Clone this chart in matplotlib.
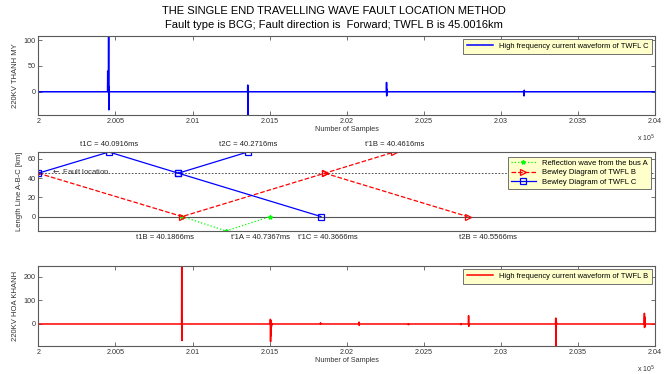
import numpy as np
import matplotlib
matplotlib.use("Agg")
import matplotlib.pyplot as plt
from matplotlib.ticker import FormatStrFormatter

plt.rcParams['font.family'] = ['Liberation Sans', 'DejaVu Sans']

# sample axis of both recordings
samples = np.arange(200000, 204001)

# TWFL C (220kV Thanh My): arrival sample and the values of each wave front
c_index = [200450, 200456, 201358, 202258, 203150]
c_values = [[40, 25], [108, -35, 10], [13, -45, 8, -5], [18, -8, 5], [-8, 3]]

# TWFL B (220kV Hoa Khanh)
b_index = [200930, 201505, 201830, 202080, 202400, 202740, 202790, 203355, 203930]
b_values = [[245, -70, 30], [20, -75, 15, -50, 10, -30, 5, -10], [5], [8, -6],
            [-3], [-3], [35, -10], [25, -93, 20, -40, 10], [45, -15, 30, -10, 20, -8]]

# Bewley diagram, time in ms, distance in km
line_len = 67
fault_km = 45
t0 = 40.0
t1C, t2C, t1C_r = 40.0916, 40.2716, 40.3666
t1B, t1B_r, t2B = 40.1866, 40.4616, 40.5566
t1A_label = 40.7367
a_time = [40.1866, 40.2436, 40.3006]
a_km = [0, -15, 0]


def waveform(index, values):
    w = np.zeros(len(samples))
    for i, vals in zip(index, values):
        for k, v in enumerate(vals):
            w[i - samples[0] + k] = v
    return w


wave_c = waveform(c_index, c_values)
wave_b = waveform(b_index, b_values)

frame = '#5a5a5a'
leg_bg = '#ffffcc'


def style(ax):
    for s in ax.spines.values():
        s.set_color(frame)
        s.set_linewidth(0.8)
    ax.tick_params(direction='in', top=True, right=True, length=3, width=0.6,
                   labelsize=5.2, colors=frame, labelcolor='#333333', pad=2)


def yellow_legend(ax, **kw):
    leg = ax.legend(loc='upper right', fancybox=False, framealpha=1, **kw)
    leg.get_frame().set_facecolor(leg_bg)
    leg.get_frame().set_edgecolor(frame)
    leg.get_frame().set_linewidth(0.6)
    return leg


fig = plt.figure(figsize=(6.72, 3.74), dpi=100)
fig.text(0.497, 0.970, 'THE SINGLE END TRAVELLING WAVE FAULT LOCATION METHOD',
         ha='center', va='center', fontsize=8)
fig.text(0.497, 0.933, 'Fault type is BCG; Fault direction is  Forward; TWFL B is 45.0016km',
         ha='center', va='center', fontsize=8)

L, W = 0.057, 0.918
xt = np.arange(2.0, 2.0401, 0.005)

# ---- TWFL C waveform
ax1 = fig.add_axes([L, 1 - 115 / 374, W, 79 / 374])
ax1.plot(samples / 1e5, wave_c, color='blue', lw=1.1,
         label='High frequency current waveform of TWFL C')
ax1.set_xlim(2.0, 2.04)
ax1.set_ylim(wave_c.min(), wave_c.max())
ax1.set_xticks(xt)
ax1.xaxis.set_major_formatter(FormatStrFormatter('%g'))
ax1.set_yticks([0, 50, 100])
ax1.set_xlabel('Number of Samples', fontsize=5.2, labelpad=1, color='#333333')
ax1.set_ylabel('220KV THANH MY', fontsize=5.5, labelpad=3, color='#333333')
style(ax1)
yellow_legend(ax1, fontsize=5.4, borderpad=0.5, handlelength=3.5, borderaxespad=0.4)
ax1.text(1.0, -0.22, r'x 10$^5$', transform=ax1.transAxes, ha='right', va='top',
         fontsize=5, color='#333333')

# ---- Bewley diagram
ax2 = fig.add_axes([L, 1 - 231 / 374, W, 79 / 374])
ax2.axhline(fault_km, color='#333333', ls=(0, (2, 2)), lw=0.6)
ax2.axhline(0, color='#555555', lw=0.8)
ax2.plot(a_time, a_km, color='#00ff00', ls=':', lw=0.9, marker='*', ms=3,
         label='Reflection wave from the bus A')
t2B_mid = t2B - (t2B - t1B) / 2
ax2.plot([t0, t1B, t2B_mid, t1B_r, np.nan, t2B_mid, t2B],
         [fault_km, 0, fault_km, line_len, np.nan, fault_km, 0],
         color='red', ls='--', lw=0.9, marker='>', ms=5, mfc='none', mew=0.9,
         label='Bewley Diagram of TWFL B')
t2C_mid = (t1C + t2C) / 2
ax2.plot([t0, t1C, t2C_mid, t2C, np.nan, t2C_mid, t1C_r],
         [fault_km, line_len, fault_km, line_len, np.nan, fault_km, 0],
         color='blue', ls='-', lw=0.9, marker='s', ms=4.5, mfc='none', mew=0.9,
         label='Bewley Diagram of TWFL C')
ax2.set_xlim(40.0, 40.8)
ax2.set_ylim(-15, line_len)
ax2.set_xticks([])
ax2.set_yticks([0, 20, 40, 60])
ax2.set_ylabel('Length Line A-B-C [km]', fontsize=5.5, labelpad=3, color='#333333')
style(ax2)
lab = dict(fontsize=5.5, ha='center', va='center', color='#222222', clip_on=False)
ax2.text(t1C, 75, 't1C = %.4fms' % t1C, **lab)
ax2.text(t2C, 75, 't2C = %.4fms' % t2C, **lab)
ax2.text(t1B_r, 75, "t'1B = %.4fms" % t1B_r, **lab)
ax2.text(t1B - 0.022, -22, 't1B = %.4fms' % t1B, **lab)
ax2.text(a_time[2] - 0.012, -22, "t'1A = %.4fms" % t1A_label, **lab)
ax2.text(t1C_r + 0.009, -22, "t'1C = %.4fms" % t1C_r, **lab)
ax2.text(t2B + 0.027, -22, 't2B = %.4fms' % t2B, **lab)
ax2.text(40.016, fault_km + 1.5, r'$\leftarrow$ Fault location', fontsize=5.5,
         ha='left', va='center', color='#333333')
yellow_legend(ax2, fontsize=5.5, borderpad=0.4, handlelength=3.2, labelspacing=0.25,
              borderaxespad=0.6)

# ---- TWFL B waveform
ax3 = fig.add_axes([L, 1 - 346 / 374, W, 80 / 374])
ax3.plot(samples / 1e5, wave_b, color='red', lw=1.1,
         label='High frequency current waveform of TWFL B')
ax3.set_xlim(2.0, 2.04)
ax3.set_ylim(wave_b.min(), wave_b.max())
ax3.set_xticks(xt)
ax3.xaxis.set_major_formatter(FormatStrFormatter('%g'))
ax3.set_yticks([0, 100, 200])
ax3.set_xlabel('Number of Samples', fontsize=5.2, labelpad=1, color='#333333')
ax3.set_ylabel('220KV HOA KHANH', fontsize=5.5, labelpad=3, color='#333333')
style(ax3)
yellow_legend(ax3, fontsize=5.4, borderpad=0.5, handlelength=3.5, borderaxespad=0.4)
ax3.text(1.0, -0.22, r'x 10$^5$', transform=ax3.transAxes, ha='right', va='top',
         fontsize=5, color='#333333')

fig.savefig('out.png', dpi=100)
